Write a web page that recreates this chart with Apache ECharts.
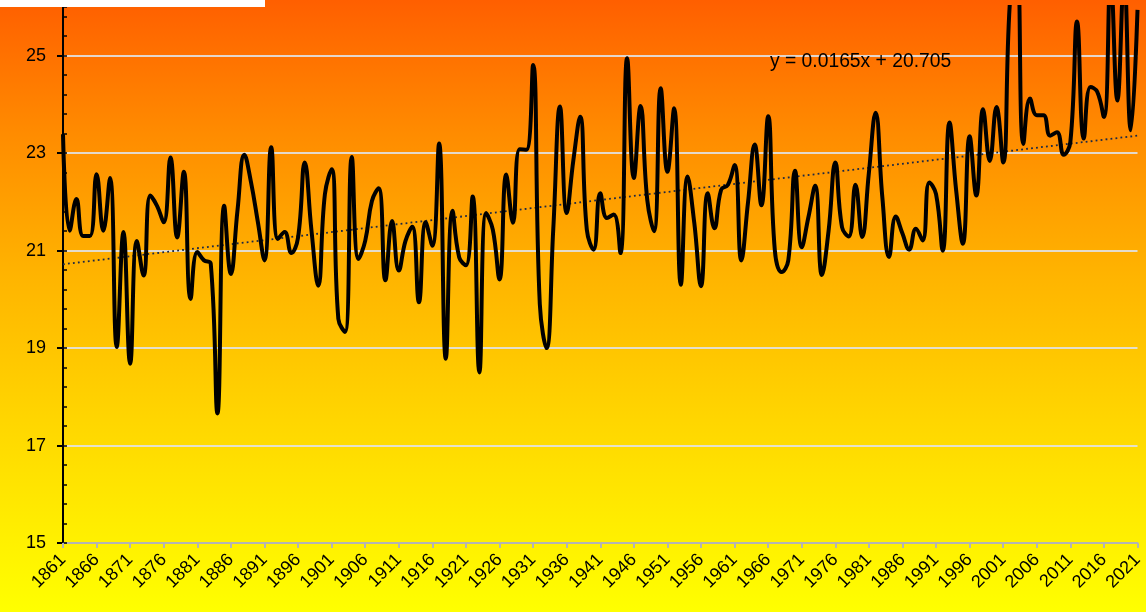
<!DOCTYPE html>
<html>
<head>
<meta charset="utf-8">
<script src="https://cdn.jsdelivr.net/npm/echarts@6/dist/echarts.min.js"></script>
<style>
  html, body { margin: 0; padding: 0; }
  #main {
    width: 1146px;
    height: 612px;
    background: linear-gradient(to bottom, #ff5f00 0%, #ff8c00 22%, #ffb400 45%, #ffd500 68%, #fff000 88%, #ffff00 100%);
  }
</style>
</head>
<body>
<div id="main"></div>
<script>
// years 1861..2021
const years = [];
for (let y = 1861; y <= 2021; y++) years.push(String(y));

// annual values
const temps = [
  23.39, 21.41, 22.06, 21.30, 21.30, 22.57, 21.41, 22.49, 19.02, 21.38, // 1861-1870
  18.68, 21.20, 20.49, 22.13, 21.92, 21.58, 22.91, 21.27, 22.62, 20.01, // 1871-1880
  20.97, 20.80, 20.73, 17.66, 21.92, 20.52, 21.85, 22.97, 22.40, 21.60, // 1881-1890
  20.80, 23.12, 21.24, 21.38, 20.95, 21.27, 22.81, 21.41, 20.28, 22.16, // 1891-1900
  22.67, 19.60, 19.33, 22.92, 20.83, 21.20, 22.02, 22.28, 20.39, 21.61, // 1901-1910
  20.59, 21.20, 21.49, 19.94, 21.58, 21.10, 23.20, 18.78, 21.82, 20.86, // 1911-1920
  20.70, 22.11, 18.50, 21.77, 21.43, 20.41, 22.56, 21.57, 23.08, 23.07, // 1921-1930
  24.81, 19.90, 19.00, 21.43, 23.96, 21.77, 22.86, 23.75, 21.43, 21.02, // 1931-1940
  22.18, 21.67, 21.74, 20.95, 24.95, 22.49, 23.97, 22.04, 21.40, 24.33, // 1941-1950
  22.62, 23.92, 20.30, 22.52, 21.57, 20.27, 22.18, 21.46, 22.25, 22.35, // 1951-1960
  22.76, 20.80, 21.99, 23.18, 21.93, 23.76, 21.00, 20.56, 20.80, 22.64, // 1961-1970
  21.07, 21.69, 22.33, 20.50, 21.41, 22.81, 21.48, 21.29, 22.35, 21.28, // 1971-1980
  22.60, 23.83, 22.10, 20.87, 21.70, 21.35, 21.02, 21.45, 21.21, 22.40, // 1981-1990
  22.16, 21.00, 23.63, 22.23, 21.14, 23.35, 22.13, 23.90, 22.84, 23.95, // 1991-2000
  22.81, 26.10, 27.00, 23.19, 24.12, 23.78, 23.78, 23.36, 23.43, 22.97, // 2001-2010
  23.23, 25.70, 23.30, 24.36, 24.26, 23.74, 26.60, 24.08, 26.60, 23.47, // 2011-2020
  25.94                                                                 // 2021
];

// linear trend y = 0.0165x + 20.705 at first and last year
const trendEnds = [20.72, 23.36];
const trendText = "y = 0.0165x + 20.705";

const font = "Liberation Sans, Arial, sans-serif";

const chart = echarts.init(document.getElementById("main"));

const option = {
  backgroundColor: "transparent",
  animation: false,
  grid: { left: 63, right: 3, top: 7, bottom: 69 },
  xAxis: {
    type: "category",
    data: years,
    boundaryGap: false,
    axisLine: { lineStyle: { color: "#b4b4b4", width: 2 } },
    axisTick: { interval: 4, length: 5, lineStyle: { color: "#b4b4b4", width: 2 } },
    axisLabel: {
      interval: 4,
      rotate: 45,
      margin: 14,
      color: "#000",
      fontSize: 18,
      fontFamily: font,
    },
    splitLine: { show: false },
  },
  yAxis: [
    {
      type: "value",
      min: 15,
      max: 26,
      interval: 2,
      axisLine: { show: true, lineStyle: { color: "#000", width: 2 } },
      axisTick: { show: true, length: 6, lineStyle: { color: "#000", width: 2 } },
      axisLabel: {
        color: "#000",
        fontSize: 18,
        fontFamily: font,
        margin: 17,
        showMaxLabel: false,
      },
      splitLine: {
        show: true,
        showMinLine: false,
        showMaxLine: false,
        lineStyle: { color: "rgba(225,225,225,0.9)", width: 2 },
      },
    },
    {
      // minor ticks on the inside of the axis
      type: "value",
      position: "left",
      min: 15,
      max: 26,
      interval: 0.4,
      axisLine: { show: false },
      axisTick: { show: true, inside: true, length: 4, lineStyle: { color: "#000", width: 1.5 } },
      axisLabel: { show: false },
      splitLine: { show: false },
    },
  ],
  series: [
    {
      type: "line",
      data: temps,
      smooth: 0.45,
      symbol: "none",
      lineStyle: { color: "#000", width: 4 },
      z: 5,
      markLine: {
        silent: true,
        symbol: "none",
        label: { show: false },
        lineStyle: { color: "#1b2845", width: 1.8, type: [1.8, 3.2] },
        data: [
          [
            { coord: [0, trendEnds[0]] },
            { coord: [years.length - 1, trendEnds[1]] },
          ],
        ],
      },
    },
  ],
  graphic: [
    {
      type: "rect",
      left: 0,
      top: 0,
      shape: { width: 265, height: 7 },
      style: { fill: "#fff" },
      z: 100,
    },
    {
      type: "text",
      left: 770,
      top: 52,
      style: { text: trendText, fill: "#000", font: "19.3px " + font },
      z: 100,
    },
  ],
};

chart.setOption(option);
</script>
</body>
</html>
